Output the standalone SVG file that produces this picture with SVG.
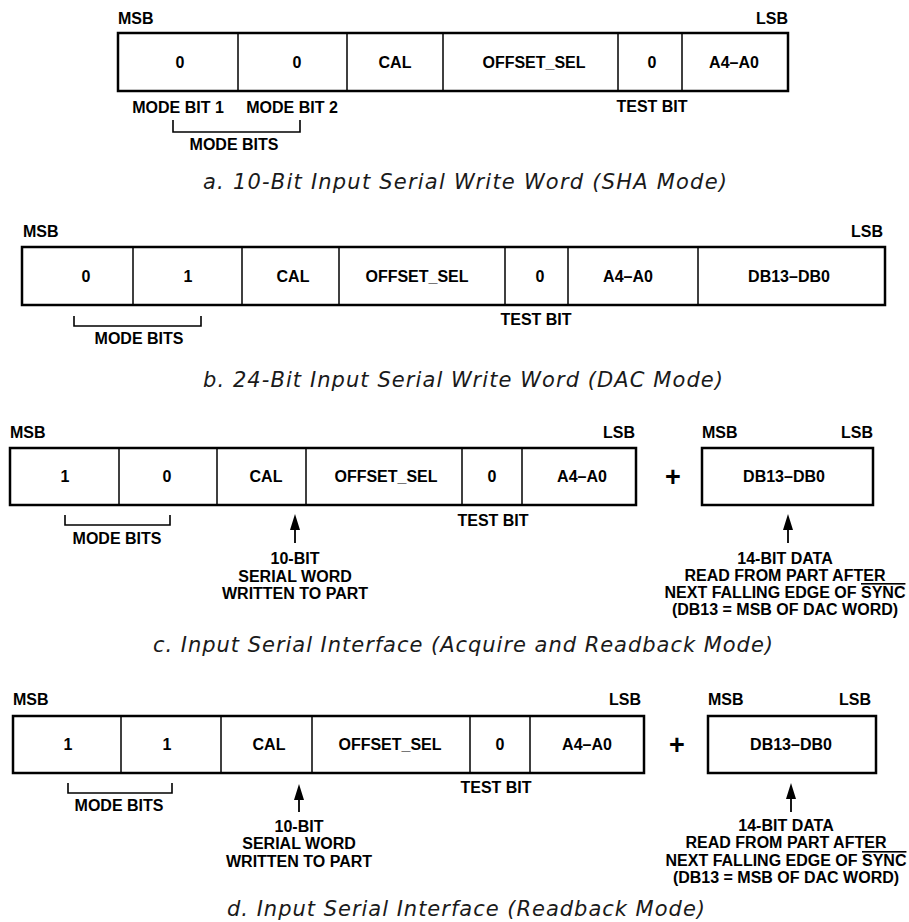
<svg xmlns="http://www.w3.org/2000/svg" width="909" height="922" viewBox="0 0 909 922">
<defs>
<style>
.lbl{font-family:"Liberation Sans",Arial,Helvetica,sans-serif;font-weight:bold;font-size:16px;fill:#000;}
.c{text-anchor:middle;}
.e{text-anchor:end;}
.ttl{font-family:"DejaVu Sans","Liberation Sans",Arial,sans-serif;font-style:italic;font-size:21px;fill:#1a1a1a;}
.box{fill:#fff;stroke:#000;stroke-width:2.5;}
.div{stroke:#000;stroke-width:1.5;}
.br{fill:none;stroke:#000;stroke-width:1.6;}
.arr{stroke:#000;stroke-width:1.8;marker-end:url(#ah);}
.plus{font-family:"Liberation Sans",Arial,sans-serif;font-weight:bold;font-size:27px;text-anchor:middle;}
.ov{text-decoration:overline;}
</style>
<marker id="ah" markerUnits="userSpaceOnUse" markerWidth="16" markerHeight="10" refX="12" refY="5" orient="auto">
<path d="M0,0 L16,5 L0,10 z" fill="#000"/>
</marker>
</defs>
<rect width="909" height="922" fill="#fff"/>

<!-- a. SHA mode -->
<g id="word-a">
<text class="lbl" x="118" y="24">MSB</text>
<text class="lbl e" x="788" y="24">LSB</text>
<rect class="box" x="118" y="33" width="670" height="58"/>
<line class="div" x1="238" y1="33" x2="238" y2="91"/>
<line class="div" x1="347" y1="33" x2="347" y2="91"/>
<line class="div" x1="443" y1="33" x2="443" y2="91"/>
<line class="div" x1="618" y1="33" x2="618" y2="91"/>
<line class="div" x1="682" y1="33" x2="682" y2="91"/>
<text class="lbl c" x="180" y="68">0</text>
<text class="lbl c" x="297" y="68">0</text>
<text class="lbl c" x="395" y="68">CAL</text>
<text class="lbl c" x="534" y="68">OFFSET_SEL</text>
<text class="lbl c" x="652" y="68">0</text>
<text class="lbl c" x="734" y="68">A4–A0</text>
<text class="lbl c" x="178" y="113">MODE BIT 1</text>
<text class="lbl c" x="292" y="113">MODE BIT 2</text>
<text class="lbl c" x="234" y="150">MODE BITS</text>
<text class="lbl c" x="652" y="112">TEST BIT</text>
</g>
<text id="title-a" class="ttl" x="203" y="189" textLength="524" lengthAdjust="spacing">a.  10-Bit Input Serial Write Word (SHA Mode)</text>

<!-- b. DAC mode -->
<g id="word-b">
<text class="lbl" x="23" y="237">MSB</text>
<text class="lbl e" x="883" y="237">LSB</text>
<rect class="box" x="22" y="247" width="863" height="58"/>
<line class="div" x1="133" y1="247" x2="133" y2="305"/>
<line class="div" x1="242" y1="247" x2="242" y2="305"/>
<line class="div" x1="339" y1="247" x2="339" y2="305"/>
<line class="div" x1="505" y1="247" x2="505" y2="305"/>
<line class="div" x1="568" y1="247" x2="568" y2="305"/>
<line class="div" x1="698" y1="247" x2="698" y2="305"/>
<text class="lbl c" x="86" y="282">0</text>
<text class="lbl c" x="188" y="282">1</text>
<text class="lbl c" x="293" y="282">CAL</text>
<text class="lbl c" x="417" y="282">OFFSET_SEL</text>
<text class="lbl c" x="540" y="282">0</text>
<text class="lbl c" x="628" y="282">A4–A0</text>
<text class="lbl c" x="789" y="282">DB13–DB0</text>
<text class="lbl c" x="139" y="344">MODE BITS</text>
<text class="lbl c" x="536" y="325">TEST BIT</text>
</g>
<text id="title-b" class="ttl" x="203" y="387" textLength="520" lengthAdjust="spacing">b.  24-Bit Input Serial Write Word (DAC Mode)</text>

<!-- c. Acquire and Readback -->
<g id="word-c">
<text class="lbl" x="10" y="438">MSB</text>
<text class="lbl e" x="635" y="438">LSB</text>
<rect class="box" x="10" y="448" width="626" height="57"/>
<line class="div" x1="119" y1="448" x2="119" y2="505"/>
<line class="div" x1="217" y1="448" x2="217" y2="505"/>
<line class="div" x1="306" y1="448" x2="306" y2="505"/>
<line class="div" x1="462" y1="448" x2="462" y2="505"/>
<line class="div" x1="522" y1="448" x2="522" y2="505"/>
<text class="lbl c" x="65" y="482">1</text>
<text class="lbl c" x="167" y="482">0</text>
<text class="lbl c" x="266" y="482">CAL</text>
<text class="lbl c" x="386" y="482">OFFSET_SEL</text>
<text class="lbl c" x="492" y="482">0</text>
<text class="lbl c" x="582" y="482">A4–A0</text>
<text class="lbl c" x="117" y="544">MODE BITS</text>
<text class="lbl c" x="493" y="526">TEST BIT</text>
<text class="lbl c" x="295" y="564">10-BIT</text>
<text class="lbl c" x="295" y="582">SERIAL WORD</text>
<text class="lbl c" x="295" y="599">WRITTEN TO PART</text>
</g>
<text id="plus-c" class="plus" x="673" y="486">+</text>
<g id="data-c">
<text class="lbl" x="702" y="438">MSB</text>
<text class="lbl e" x="873" y="438">LSB</text>
<rect class="box" x="702" y="448" width="171" height="57"/>
<text class="lbl c" x="784" y="482">DB13–DB0</text>
<text class="lbl c" x="785" y="564">14-BIT DATA</text>
<text class="lbl c" x="785" y="581">READ FROM PART AFTER</text>
<text class="lbl c" x="785" y="598">NEXT FALLING EDGE OF <tspan class="ov">SYNC</tspan></text>
<text class="lbl c" x="785" y="615">(DB13 = MSB OF DAC WORD)</text>
</g>
<text id="title-c" class="ttl" x="153" y="652" textLength="620" lengthAdjust="spacing">c.  Input Serial Interface (Acquire and Readback Mode)</text>

<!-- d. Readback -->
<g id="word-d">
<text class="lbl" x="13" y="705">MSB</text>
<text class="lbl e" x="641" y="705">LSB</text>
<rect class="box" x="13" y="716" width="631" height="57"/>
<line class="div" x1="121" y1="716" x2="121" y2="773"/>
<line class="div" x1="221" y1="716" x2="221" y2="773"/>
<line class="div" x1="312" y1="716" x2="312" y2="773"/>
<line class="div" x1="470" y1="716" x2="470" y2="773"/>
<line class="div" x1="530" y1="716" x2="530" y2="773"/>
<text class="lbl c" x="68" y="750">1</text>
<text class="lbl c" x="167" y="750">1</text>
<text class="lbl c" x="269" y="750">CAL</text>
<text class="lbl c" x="390" y="750">OFFSET_SEL</text>
<text class="lbl c" x="500" y="750">0</text>
<text class="lbl c" x="587" y="750">A4–A0</text>
<text class="lbl c" x="119" y="811">MODE BITS</text>
<text class="lbl c" x="496" y="793">TEST BIT</text>
<text class="lbl c" x="299" y="832">10-BIT</text>
<text class="lbl c" x="299" y="849">SERIAL WORD</text>
<text class="lbl c" x="299" y="867">WRITTEN TO PART</text>
</g>
<text id="plus-d" class="plus" x="677" y="754">+</text>
<g id="data-d">
<text class="lbl" x="708" y="705">MSB</text>
<text class="lbl e" x="871" y="705">LSB</text>
<rect class="box" x="708" y="716" width="168" height="57"/>
<text class="lbl c" x="791" y="750">DB13–DB0</text>
<text class="lbl c" x="786" y="831">14-BIT DATA</text>
<text class="lbl c" x="786" y="848">READ FROM PART AFTER</text>
<text class="lbl c" x="786" y="866">NEXT FALLING EDGE OF <tspan class="ov">SYNC</tspan></text>
<text class="lbl c" x="786" y="883">(DB13 = MSB OF DAC WORD)</text>
</g>
<text id="title-d" class="ttl" x="227" y="916" textLength="478" lengthAdjust="spacing">d.  Input Serial Interface (Readback Mode)</text>

<g id="connectors">
<path class="br" d="M173,120 V132 H300 V120"/>
<path class="br" d="M74,316 V326 H201 V316"/>
<path class="br" d="M65,515 V525 H170 V515"/>
<path class="br" d="M68,783 V793 H172 V783"/>
<line class="arr" x1="295" y1="543" x2="295" y2="518"/>
<line class="arr" x1="788" y1="543" x2="788" y2="518"/>
<line class="arr" x1="299" y1="812" x2="299" y2="788"/>
<line class="arr" x1="791" y1="812" x2="791" y2="787"/>
</g>
</svg>
